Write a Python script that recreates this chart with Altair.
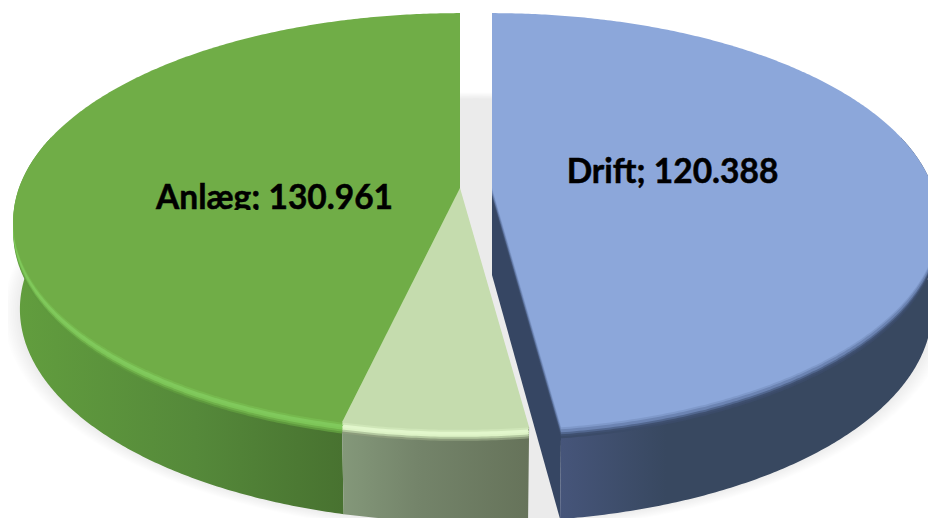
import math
import altair as alt
import pandas as pd

# values
CATEGORIES = ["Drift", "Anlæg"]
LABEL_VALUES = [120.388, 130.961]
LIGHT_PART_OF_ANLAEG = 14.4  # estimated: unlabelled pale slice

TOTAL = sum(LABEL_VALUES)
A_DRIFT = 360 * LABEL_VALUES[0] / TOTAL
A_LIGHT = 360 * LIGHT_PART_OF_ANLAEG / TOTAL

# perspective disc geometry
CY, RX, RY, K = 188.0, 441.0, 203.0, 0.1607
CX_G, CX_B = 460.0, 492.0
DEPTH, SX, SY = 87.0, 0.985, 1.02


def pt(cx, deg, dy=0.0, sx=1.0, sy=1.0, cy=CY):
    t = math.radians(deg)
    u, v = math.sin(t), math.cos(t)
    d = 1 + K * v
    return cx + sx * RX * u / d, cy + dy - sy * RY * v / d


def arc(cx, a, b, **kw):
    n = max(2, int(abs(b - a)) * 2)
    return [pt(cx, a + (b - a) * i / n, **kw) for i in range(n + 1)]


def slice_pts(cx, a, b, dy=0.0):
    return [(cx, CY + dy)] + arc(cx, a, b, dy=dy)


def wall_pts(cx, a, b):
    return arc(cx, a, b) + arc(cx, b, a, dy=DEPTH, sx=SX, sy=SY)


X = alt.X("x:Q", scale=alt.Scale(domain=[8, 928], nice=False, zero=False), axis=None)
Y = alt.Y("y:Q", scale=alt.Scale(domain=[518, 8], nice=False, zero=False), axis=None)


def poly(points, fill, opacity=1.0):
    df = pd.DataFrame([{"x": p[0], "y": p[1], "i": i} for i, p in enumerate(points)])
    return alt.Chart(df).mark_line(fill=fill, stroke=None, fillOpacity=opacity, clip=True).encode(
        x=X, y=Y, order=alt.Order("i:Q")
    )


def grad(*stops):
    return alt.Gradient(
        gradient="linear", x1=0, x2=1, y1=0, y2=0,
        stops=[alt.GradientStop(offset=o, color=c) for o, c in stops],
    )


layers = []

# soft shadow: a nested stack of translucent discs
for s in range(10):
    g = 1 + 0.004 * (9 - s)
    ring = [
        (476 + (x - 476) * (1.036 * g), y + (y - 275) * (g - 1))
        for x, y in arc(476, 0, 360, dy=DEPTH + 2, sx=SX, sy=SY)
    ]
    layers.append(poly(ring, "#000000", 0.009))

A_END = A_DRIFT + A_LIGHT

# walls
layers.append(poly(wall_pts(CX_G, A_END, 285),
                   grad((0, "#629E3E"), (0.55, "#55893A"), (1, "#487230"))))
layers.append(poly(wall_pts(CX_G, A_DRIFT, A_END),
                   grad((0, "#84987A"), (0.4, "#74846A"), (1, "#66735A"))))
layers.append(poly([(CX_B, CY), pt(CX_B, A_DRIFT), pt(CX_B, A_DRIFT, dy=DEPTH, sx=SX, sy=SY),
                    (CX_B, CY + DEPTH)], "#364663"))
layers.append(poly(wall_pts(CX_B, 75, A_DRIFT),
                   grad((0, "#46557A"), (0.28, "#384860"), (1, "#384860"))))

# bevelled rims, offset downwards under the top surfaces
for dy, g_col, l_col, b_col in [
    (11, "#5F9A3E", "#8C9C7C", "#3B4B68"),
    (9, "#6FB04A", "#B4C9A0", "#3F5070"),
    (7, "#7DC658", "#DDF3C6", "#52678F"),
    (5, "#80C95C", "#E2F7CC", "#6C84B3"),
    (2, "#76B94E", "#CFE6B8", "#7F99CA"),
]:
    layers.append(poly(slice_pts(CX_G, A_END, 360, dy=dy), g_col))
    layers.append(poly(slice_pts(CX_G, A_DRIFT, A_END, dy=dy), l_col))
    layers.append(poly(slice_pts(CX_B, 0, A_DRIFT, dy=dy), b_col))

# top surfaces
layers.append(poly(slice_pts(CX_G, A_END, 360), "#70AD47"))
layers.append(poly(slice_pts(CX_G, A_DRIFT, A_END), "#C5DCAE"))
layers.append(poly(slice_pts(CX_B, 0, A_DRIFT), "#8CA7DA"))

# labels
labels = pd.DataFrame({
    "x": [672.5, 274.5],
    "y": [173, 199],
    "t": [f"{c}; {v:.3f}" for c, v in zip(CATEGORIES, LABEL_VALUES)],
})
layers.append(alt.Chart(labels).mark_text(
    font="Lato", fontWeight="bold", fontSize=33.5, color="#000000", stroke="#000000", strokeWidth=0.5,
    align="center", baseline="middle"
).encode(x=X, y=Y, text="t:N"))

# the Anlæg label is cut off just under its baseline in the reference
layers.append(alt.Chart(pd.DataFrame({"x": [150], "x2": [400], "y": [210], "y2": [224]})).mark_rect(
    color="#70AD47"
).encode(x=X, x2="x2:Q", y=Y, y2="y2:Q"))

chart = alt.layer(*layers).properties(
    width=920, height=510, padding=0, background="#FFFFFF",
    autosize=alt.AutoSizeParams(type="none"),
).configure_view(stroke=None)

chart.save("out.html", embed_options={"renderer": "svg", "actions": False})
